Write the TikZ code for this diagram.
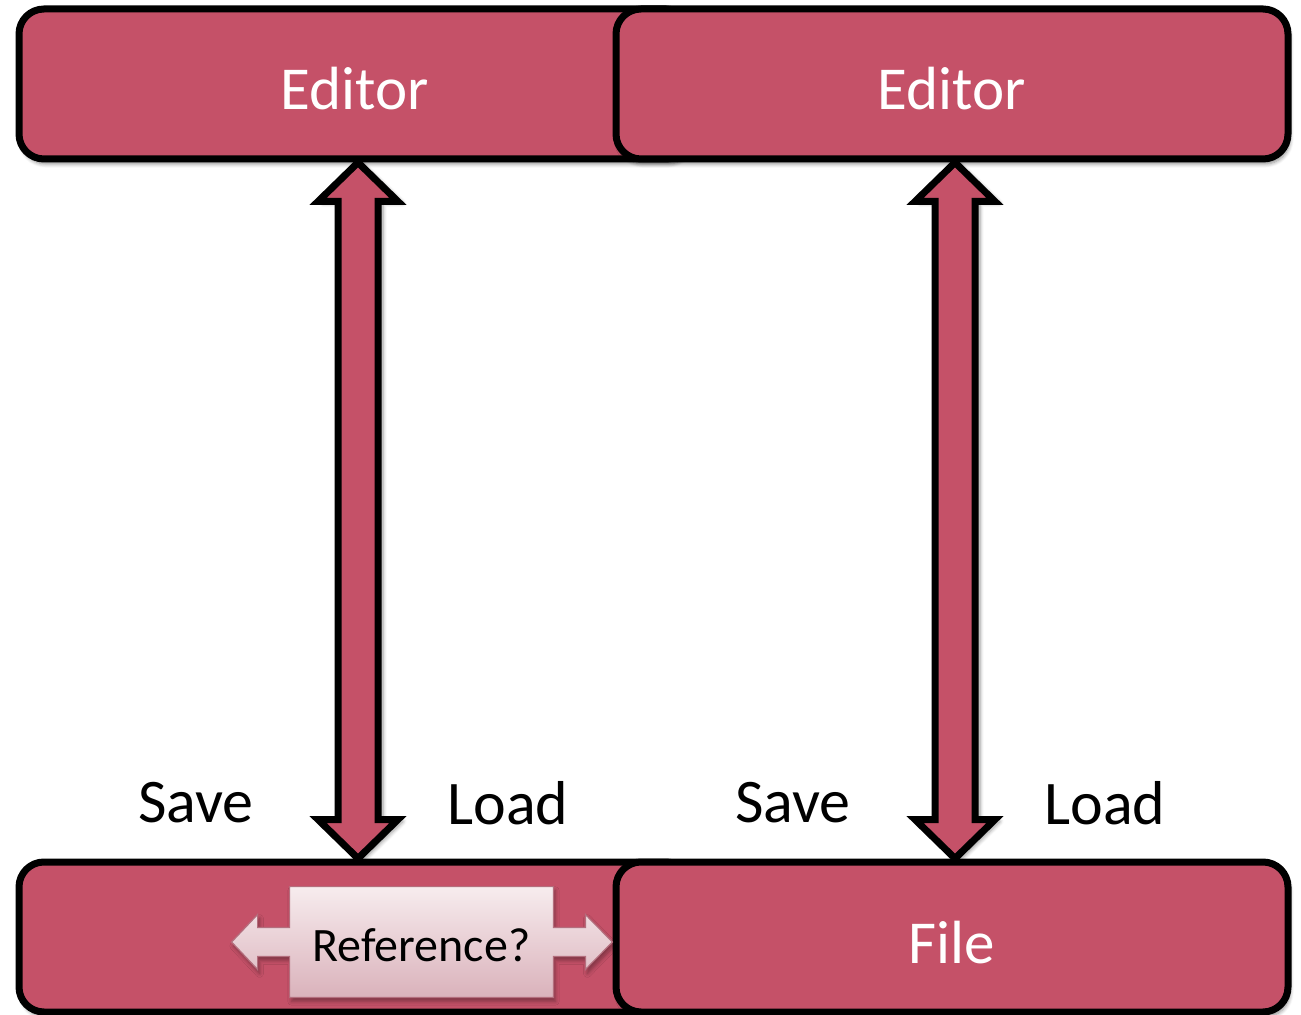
\documentclass[tikz,border=0pt]{standalone}
\usepackage{fontspec}
\setmainfont{Carlito}
\usetikzlibrary{
    positioning,
    calc,
    shadows.blur
}
\definecolor{panel}{RGB}{197, 81, 104}
\definecolor{refTop}{RGB}{247, 236, 238}
\definecolor{refBot}{RGB}{218, 178, 187}
\definecolor{refLine}{RGB}{180, 110, 125}

\begin{document}
\begin{tikzpicture}[
    x=0.5pt, y=-0.5pt,
    box/.style={rectangle, draw=black, fill=panel, rounded corners=12.5pt, line width=3.5pt,
                minimum width=336pt, minimum height=75pt, text=white,
                text height=26pt, text depth=0pt, font=\fontsize{30.5}{36}\selectfont,
                blur shadow={shadow xshift=1pt, shadow yshift=-2.5pt, shadow blur steps=6, shadow opacity=45}},
    tag/.style={font=\fontsize{31}{36}\selectfont, text=black},
    bigarrow/.style={draw=black, fill=panel, line width=3.5pt, line join=miter,
                blur shadow={shadow xshift=2.5pt, shadow yshift=-1pt, shadow blur steps=6, shadow opacity=40}},
    refcall/.style={draw=refLine, line width=0.6pt, top color=refTop, bottom color=refBot,
                blur shadow={shadow xshift=1pt, shadow yshift=-2pt, shadow blur steps=5, shadow opacity=35}}
]
\useasboundingbox (0,0) rectangle (1301,1015);

% ============================================
% EDITORS (top row, right one on top)
% ============================================
\node[box] (edL) at (355, 84) {Editor};
\node[box] (edR) at (952, 84) {Editor};

% ============================================
% FILE (bottom row)
% ============================================
\node[box] (fileL) at (355, 937) {};
\node[box] (fileR) at (952, 937) {File};

% ============================================
% REFERENCE? callout with arrows left and right
% ============================================
\node[minimum width=131.5pt, minimum height=55pt, inner sep=0pt] (ref) at (421.5, 942) {};
\path[refcall] (ref.north west) -- (ref.north east) -- ($(ref.east)+(0,-14.5)$)
    -- ++(32,0) -- ++(0,-13) -- ++(27,27.5) -- ++(-27,27.5) -- ++(0,-13)
    -- ($(ref.east)+(0,14.5)$) -- (ref.south east) -- (ref.south west)
    -- ($(ref.west)+(0,14.5)$) -- ++(-32,0) -- ++(0,13) -- ++(-26,-27.5)
    -- ++(26,-27.5) -- ++(0,13) -- ($(ref.west)+(0,-14.5)$) -- cycle;
\node[font=\fontsize{24}{28}\selectfont, yshift=-1.5pt] (refText) at (ref) {Reference?};

% ============================================
% SAVE / LOAD double arrows
% ============================================
\coordinate (tA1) at ($(edL.south)+(3,0)$);
\coordinate (tB1) at ($(fileL.north)+(3,0)$);
\coordinate (tA2) at ($(edR.south)+(3,0)$);
\coordinate (tB2) at ($(fileR.north)+(3,0)$);

\foreach \k in {1,2} {
    \draw[bigarrow] (tA\k) -- ++(40,39) -- ++(-20,0) -- ($(tB\k)+(20,-39)$) -- ++(20,0)
        -- (tB\k) -- ++(-40,-39) -- ++(20,0) -- ($(tA\k)+(-20,39)$) -- ++(-20,0) -- cycle;
}

\node[tag] (save1) at (196, 803) {Save};
\node[tag] (load1) at (508, 803) {Load};
\node[tag] (save2) at (793, 803) {Save};
\node[tag] (load2) at (1105, 803) {Load};

\end{tikzpicture}
\end{document}
